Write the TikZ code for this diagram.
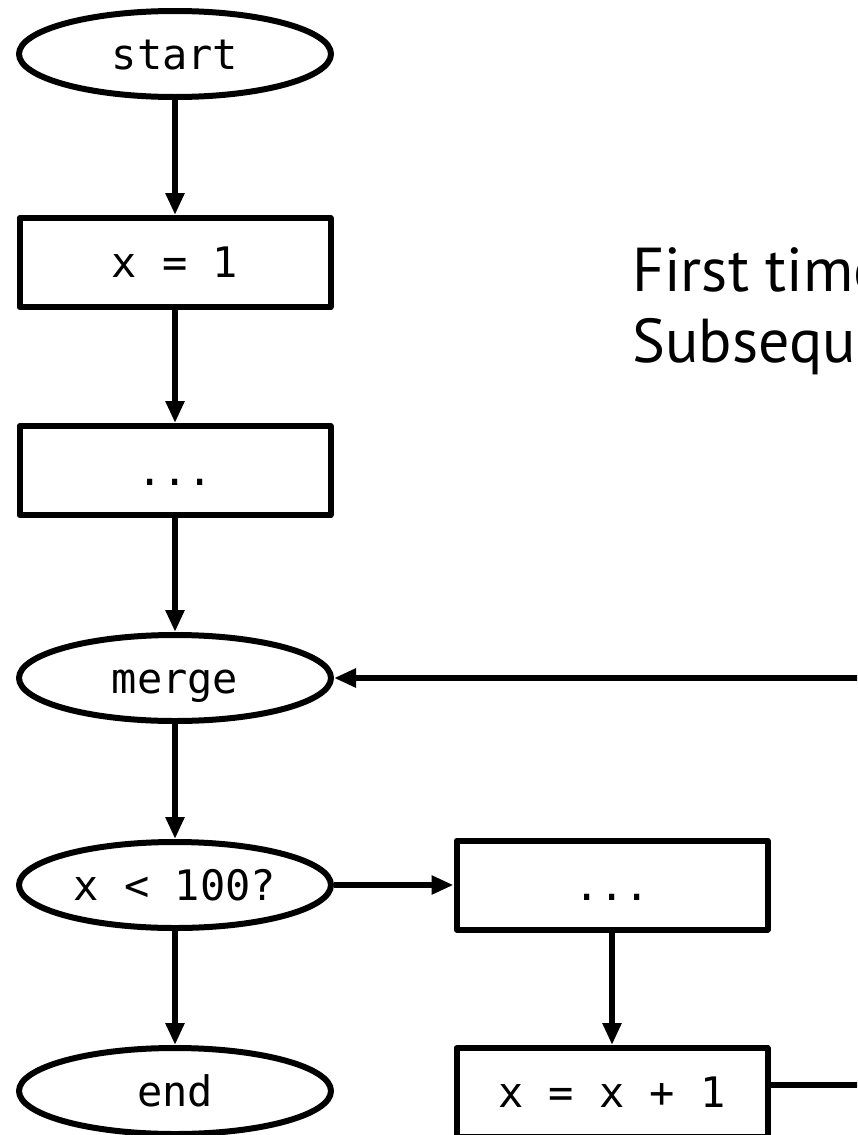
\documentclass[tikz,border=0pt]{standalone}
\usepackage{fontspec}
\setmainfont[Ligatures=NoCommon]{PT Sans}
\setmonofont{DejaVu Sans Mono}
\usetikzlibrary{shapes.geometric, arrows.meta}
\begin{document}
\begin{tikzpicture}[x=1pt, y=-1pt,
  every node/.style={inner sep=0pt},
  flow/.style={draw, line width=6pt, line join=round,
    font=\fontsize{42}{50}\selectfont\ttfamily,
    text height=30.6pt, text depth=0pt},
  terminal/.style={flow, ellipse, minimum width=312pt, minimum height=86pt},
  stepbox/.style={flow, rectangle, minimum width=311pt, minimum height=89pt},
  link/.style={line width=6pt, -{Triangle[length=22pt,width=18pt]}},
  plain/.style={line width=6pt},
  note/.style={anchor=base west, font=\fontsize{62}{74}\selectfont}
]
\useasboundingbox (0,0) rectangle (857,1135);
\fill[white] (0,0) rectangle (857,1135);
\clip (0,0) rectangle (857,1135);

% main column
\node[terminal] (start) at (175,54)    {start};
\node[stepbox]  (x1)    at (175,262.5) {x = 1};
\node[stepbox]  (dots1) at (175,470.5) {...};
\node[terminal] (merge) at (175,678)   {merge};
\node[terminal] (cond)  at (175,885)   {x < 100?};
\node[terminal] (end)   at (175,1091)  {end};

% loop body
\node[stepbox]  (dots2) at (612,885)    {...};
\node[stepbox]  (inc)   at (612,1092.5) {x = x + 1};

% annotation, running past the right edge
\node[note] (first) at (632,291) {First time};
\node[note] (subs)  at (632,362) {Subsequent};

% connectors
\draw[link] (start) -- (x1);
\draw[link] (x1) -- (dots1);
\draw[link] (dots1) -- (merge);
\draw[link] (merge) -- (cond);
\draw[link] (cond) -- (end);
\draw[link] (cond) -- (dots2);
\draw[link] (dots2) -- (inc);

\coordinate (loopout) at (900,1085);
\coordinate (loopin)  at (900,678);
\draw[plain] (inc.east |- loopout) -- (loopout);
\draw[link] (loopin) -- (merge);
\end{tikzpicture}
\end{document}
